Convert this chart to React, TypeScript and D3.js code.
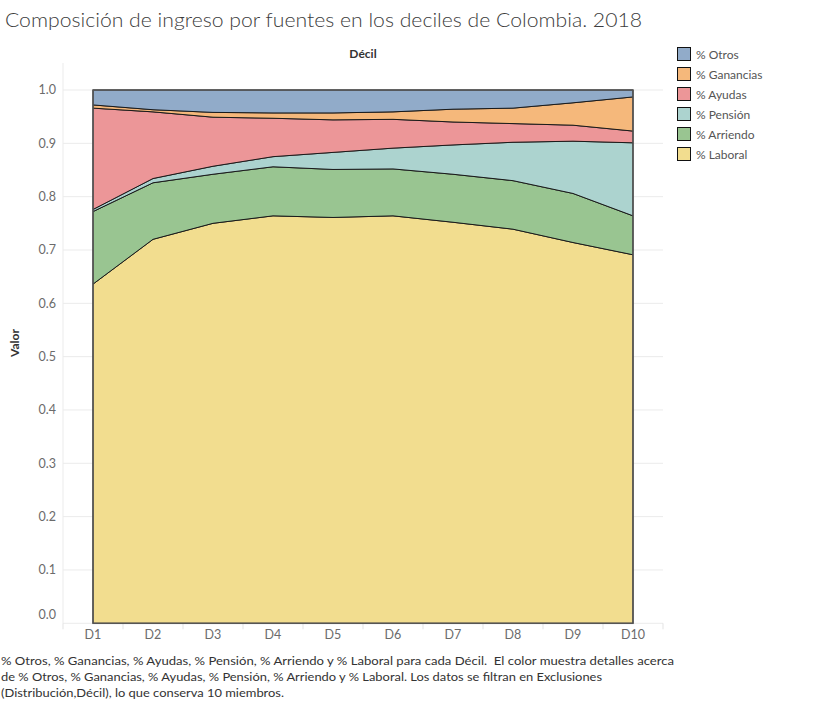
import React, { useRef, useEffect } from "react";
import * as d3 from "d3";

// data
const deciles = ["D1", "D2", "D3", "D4", "D5", "D6", "D7", "D8", "D9", "D10"];
const laboral = [0.636, 0.72, 0.75, 0.764, 0.761, 0.764, 0.752, 0.739, 0.714, 0.691];
const arriendo = [0.136, 0.106, 0.092, 0.092, 0.09, 0.088, 0.09, 0.091, 0.092, 0.073];
const pension = [0.004, 0.008, 0.015, 0.019, 0.032, 0.039, 0.055, 0.072, 0.098, 0.137];
const ayudas = [0.19, 0.125, 0.092, 0.072, 0.061, 0.054, 0.043, 0.035, 0.03, 0.022];
const ganancias = [0.006, 0.004, 0.009, 0.01, 0.013, 0.014, 0.024, 0.029, 0.042, 0.064];
const otros = [0.028, 0.037, 0.042, 0.043, 0.043, 0.041, 0.036, 0.034, 0.024, 0.013];

const seriesNames = ["% Laboral", "% Arriendo", "% Pensión", "% Ayudas", "% Ganancias", "% Otros"];
const seriesValues = [laboral, arriendo, pension, ayudas, ganancias, otros];
const seriesColors = ["#f2dd8f", "#99c591", "#acd3cf", "#ec9698", "#f5b87b", "#91abc9"];
const yTicks = [0, 0.1, 0.2, 0.3, 0.4, 0.5, 0.6, 0.7, 0.8, 0.9, 1.0];

const title = "Composición de ingreso por fuentes en los deciles de Colombia. 2018";
const footer = [
    "% Otros, % Ganancias, % Ayudas, % Pensión, % Arriendo y % Laboral para cada Décil.  El color muestra detalles acerca",
    "de % Otros, % Ganancias, % Ayudas, % Pensión, % Arriendo y % Laboral. Los datos se filtran en Exclusiones",
    "(Distribución,Décil), lo que conserva 10 miembros.",
];
const footerWidths = [673, 601, 283];

const App = () => {
    const canvas = useRef<SVGSVGElement>(null);

    const width = 813;
    const height = 703;
    const pane = { left: 63, right: 663, top: 63, bottom: 623.3 };
    const font = "Lato, 'Open Sans', sans-serif";

    useEffect(() => {
        const svg = d3.select(canvas.current);
        svg.selectAll("*").remove();

        const xScale = d3.scalePoint<string>().domain(deciles).range([93, 633]);
        const yScale = d3.scaleLinear().domain([0, 1]).range([pane.bottom, 90]);

        // title
        svg.append("text")
            .attr("x", 5).attr("y", 27)
            .attr("font-family", font).attr("font-size", 20).attr("font-weight", 300)
            .attr("fill", "#3c3c3c")
            .attr("textLength", 637).attr("lengthAdjust", "spacingAndGlyphs")
            .text(title);

        // column header
        svg.append("text")
            .attr("x", (pane.left + pane.right) / 2).attr("y", 58)
            .attr("text-anchor", "middle")
            .attr("font-family", font).attr("font-size", 12).attr("font-weight", "bold")
            .attr("fill", "#333")
            .text("Décil");

        // gridlines
        const grid = svg.append("g");
        yTicks.forEach(t => {
            grid.append("line")
                .attr("x1", pane.left).attr("x2", pane.right)
                .attr("y1", yScale(t)).attr("y2", yScale(t))
                .attr("stroke", "#ebebeb").attr("stroke-width", 1);
        });
        grid.append("line")
            .attr("x1", pane.left).attr("x2", pane.left)
            .attr("y1", pane.top).attr("y2", pane.bottom)
            .attr("stroke", "#ebebeb");
        // dividers under the x header
        for (let i = 0; i <= deciles.length; i++) {
            const xx = pane.left + i * 60;
            grid.append("line")
                .attr("x1", xx).attr("x2", xx)
                .attr("y1", pane.bottom).attr("y2", pane.bottom + 6)
                .attr("stroke", "#e3e3e3");
        }

        // y axis labels
        yTicks.forEach(t => {
            svg.append("text")
                .attr("x", 56).attr("y", Math.min(yScale(t), pane.bottom - 9))
                .attr("dy", "0.35em")
                .attr("text-anchor", "end")
                .attr("font-family", font).attr("font-size", 12.5)
                .attr("fill", "#6b6b6b")
                .text(d3.format(".1f")(t));
        });

        svg.append("text")
            .attr("transform", "translate(19,343) rotate(-90)")
            .attr("text-anchor", "middle")
            .attr("font-family", font).attr("font-size", 12).attr("font-weight", "bold")
            .attr("fill", "#333")
            .text("Valor");

        // x labels
        deciles.forEach(d => {
            svg.append("text")
                .attr("x", xScale(d)!).attr("y", 639)
                .attr("text-anchor", "middle")
                .attr("font-family", font).attr("font-size", 12.5)
                .attr("fill", "#6b6b6b")
                .text(d);
        });

        // stacked areas
        const rows = deciles.map((d, i) => {
            const row: any = { decil: d };
            seriesNames.forEach((s, j) => { row[s] = seriesValues[j][i]; });
            return row;
        });
        const stack = d3.stack().keys(seriesNames);
        const layers = stack(rows);
        const area = d3.area<any>()
            .x((d: any) => xScale(d.data.decil)!)
            .y0((d: any) => yScale(d[0]))
            .y1((d: any) => yScale(d[1]));

        svg.append("g")
            .selectAll("path")
            .data(layers)
            .enter().append("path")
                .attr("d", (d: any) => area(d))
                .attr("fill", (_d: any, i: number) => seriesColors[i])
                .attr("stroke", "#1a1a1a")
                .attr("stroke-width", 1)
                .attr("stroke-linejoin", "round");

        // pane border on the outside edges
        svg.append("rect")
            .attr("x", 93).attr("y", 90)
            .attr("width", 540).attr("height", pane.bottom - 90)
            .attr("fill", "none")
            .attr("stroke", "#555").attr("stroke-width", 1.5);

        // legend, top entry is the last series
        const legend = svg.append("g");
        [...seriesNames].reverse().forEach((s, i) => {
            const c = seriesColors[seriesNames.length - 1 - i];
            legend.append("rect")
                .attr("x", 677.5).attr("y", 47.5 + i * 20)
                .attr("width", 13).attr("height", 13)
                .attr("fill", c).attr("stroke", "#111").attr("stroke-width", 1);
            legend.append("text")
                .attr("x", 696).attr("y", 58.5 + i * 20)
                .attr("font-family", font).attr("font-size", 12)
                .attr("fill", "#555")
                .text(s);
        });

        // footer caption
        footer.forEach((line, i) => {
            svg.append("text")
                .attr("x", 1).attr("y", 665 + i * 16)
                .attr("font-family", font).attr("font-size", 12)
                .attr("fill", "#333")
                .style("white-space", "pre")
                .attr("textLength", footerWidths[i]).attr("lengthAdjust", "spacingAndGlyphs")
                .text(line);
        });
    }, []);

    return (
        <svg ref={canvas} width={width} height={height}
            style={{ position: "absolute", left: 0, top: 0, background: "#fff" }} />
    );
};

export default App;
